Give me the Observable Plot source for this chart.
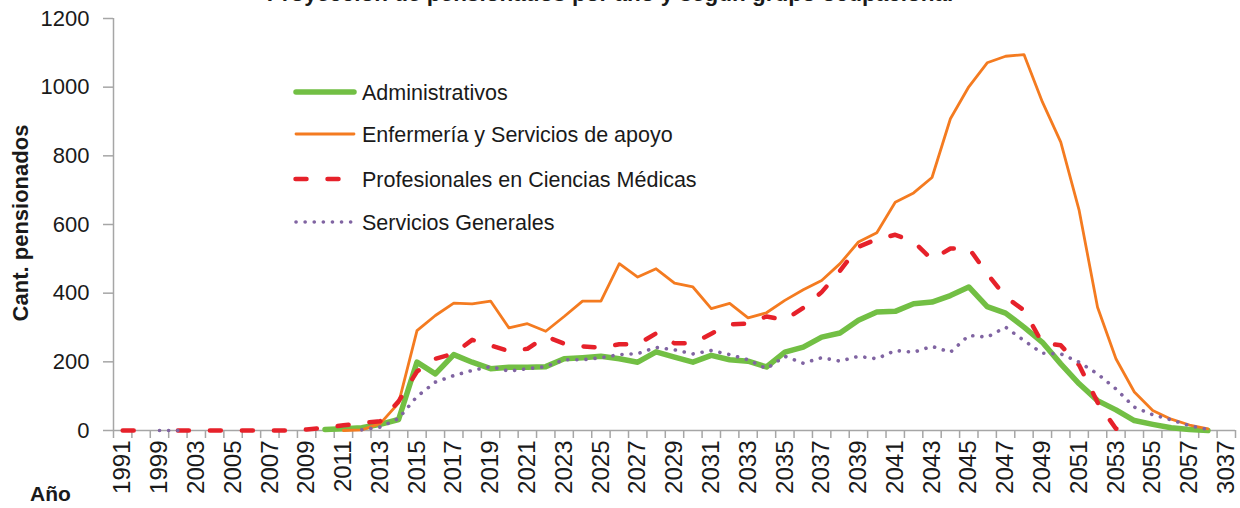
<!DOCTYPE html>
<html>
<head>
<meta charset="utf-8">
<script src="https://cdn.jsdelivr.net/npm/d3@7"></script>
<script src="https://cdn.jsdelivr.net/npm/@observablehq/plot@0.6"></script>
<style>
html, body { margin: 0; padding: 0; background: #fff; }
#wrap { position: relative; width: 1240px; height: 508px; overflow: hidden; font-family: "Liberation Sans", Arial, sans-serif; }
#chart { position: absolute; left: 0; top: 0; }
#overlay { position: absolute; left: 0; top: 0; }
</style>
</head>
<body>
<div id="wrap">
  <div id="chart"></div>
  <svg id="overlay" width="1240" height="508"></svg>
</div>
<script>
// ---------- DATA ----------
const categories = [
  "1991","1997","1999","2001","2003","2004","2005","2006","2007","2008",
  "2009","2010","2011","2012","2013","2014","2015","2016","2017","2018",
  "2019","2020","2021","2022","2023","2024","2025","2026","2027","2028",
  "2029","2030","2031","2032","2033","2034","2035","2036","2037","2038",
  "2039","2040","2041","2042","2043","2044","2045","2046","2047","2048",
  "2049","2050","2051","2052","2053","2054","2055","2056","2057","2058",
  "3037"
];

const seriesNames = [
  "Administrativos",
  "Enfermería y Servicios de apoyo",
  "Profesionales en Ciencias Médicas",
  "Servicios Generales"
];

const administrativos = [
  null,null,null,null,null,null,null,null,null,null,
  null,3,5,8,18,32,199,165,221,199,
  180,184,184,186,209,212,216,209,199,229,
  214,199,219,206,202,185,228,243,272,284,
  321,345,347,369,374,393,418,361,342,301,
  257,194,136,87,60,29,18,8,3,0
];

const enfermeria = [
  null,null,null,null,null,null,null,null,null,null,
  null,null,0,2,20,80,291,335,371,369,
  377,299,311,289,332,377,377,486,447,471,
  429,418,355,370,328,343,379,410,437,486,
  549,576,665,692,737,908,1001,1071,1090,1095,
  957,840,641,359,209,112,58,33,16,5
];

const profesionales = [
  0,0,null,0,0,0,0,0,0,0,
  3,8,15,22,27,85,172,209,224,264,
  248,231,238,274,253,245,241,251,251,283,
  254,254,282,309,311,332,322,357,403,465,
  535,557,570,550,498,530,531,457,389,350,
  255,248,190,82,5,0,null,null,null,null
];

const serviciosGenerales = [
  null,null,0,0,null,null,null,null,null,null,
  null,null,null,2,10,35,99,141,160,175,
  186,173,180,186,206,206,212,221,224,242,
  235,223,233,221,206,180,216,196,212,202,
  216,209,233,228,245,228,277,272,301,262,
  225,223,199,165,121,68,46,31,14,3
];

const yTicks = [0, 200, 400, 600, 800, 1000, 1200];

// ---------- STYLES ----------
const styles = [
  {color: "#72bf44", width: 5.5, dash: null, cap: "round"},
  {color: "#f47b20", width: 2.8, dash: null, cap: "round"},
  {color: "#e6212a", width: 4.5, dash: "11,21", cap: "round"},
  {color: "#8064a2", width: 3.6, dash: "0.1,9", cap: "round"}
];

const allValues = [administrativos, enfermeria, profesionales, serviciosGenerales];
const rows = allValues.map((vals, s) =>
  vals.map((v, i) => ({i, v, serie: seriesNames[s]}))
);

const labelIndex = categories.map((c, i) => i).filter(i => i % 2 === 0);
const boundaries = d3.range(-0.5, categories.length, 1);

const grey = "#a6a6a6";

const chart = Plot.plot({
  width: 1240,
  height: 508,
  marginLeft: 113,
  marginRight: 5,
  marginTop: 18,
  marginBottom: 78,
  style: {fontFamily: "'Liberation Sans', Arial, sans-serif", background: "#fff", color: "#1a1a1a", overflow: "visible"},
  x: {type: "linear", domain: [-0.5, categories.length - 0.5], label: null},
  y: {domain: [0, 1200], label: null},
  marks: [
    Plot.ruleY([0], {stroke: grey, strokeWidth: 1.5}),
    Plot.ruleX([-0.5], {stroke: grey, strokeWidth: 1.5}),
    Plot.axisY({ticks: yTicks, tickSize: 10, tickPadding: 14, fontSize: 22, tickFormat: d => String(d), stroke: grey, fill: "#1a1a1a", label: null, strokeWidth: 1.5}),
    Plot.axisX({ticks: boundaries, tickSize: 8, tickFormat: () => "", stroke: grey, label: null, strokeWidth: 1.5}),
    Plot.axisX({ticks: labelIndex, tickSize: 0, tickPadding: 10, tickRotate: -90, tickFormat: i => categories[i], fontSize: 24, fill: "#1a1a1a", label: null}),
    ...rows.map((data, s) => Plot.line(data, {
      x: "i", y: "v",
      stroke: styles[s].color,
      strokeWidth: styles[s].width,
      strokeDasharray: styles[s].dash,
      strokeLinecap: styles[s].cap,
      strokeLinejoin: "round"
    }))
  ]
});
document.getElementById("chart").appendChild(chart);

// ---------- OVERLAY TEXT & LEGEND ----------
const ov = d3.select("#overlay").attr("font-family", "'Liberation Sans', Arial, sans-serif");

// title: clipped at the top edge, as in the reference
ov.append("text")
  .attr("x", 610).attr("y", 1)
  .attr("text-anchor", "middle")
  .attr("font-weight", "bold").attr("font-size", 22.5).attr("fill", "#1a1a1a")
  .text("Proyección de pensionados por año y según grupo ocupacional");

ov.append("text")
  .attr("transform", "translate(28,223) rotate(-90)")
  .attr("text-anchor", "middle")
  .attr("font-weight", "bold").attr("font-size", 22).attr("fill", "#1a1a1a")
  .text("Cant. pensionados");

ov.append("text")
  .attr("x", 30).attr("y", 501)
  .attr("font-weight", "bold").attr("font-size", 21).attr("fill", "#1a1a1a")
  .text("Año");

const legendY = [92, 134, 179, 222];
seriesNames.forEach((name, s) => {
  const g = ov.append("g").attr("transform", `translate(0,${legendY[s]})`);
  g.append("line")
    .attr("x1", s === 2 ? 295.5 : 296).attr("x2", s === 2 ? 341 : 354)
    .attr("y1", 0).attr("y2", 0)
    .attr("stroke", styles[s].color)
    .attr("stroke-width", styles[s].width)
    .attr("stroke-dasharray", styles[s].dash)
    .attr("stroke-linecap", styles[s].cap);
  g.append("text")
    .attr("x", 362).attr("y", 0).attr("dy", "0.36em")
    .attr("font-size", 21.5).attr("fill", "#1a1a1a")
    .text(name);
});
</script>
</body>
</html>
